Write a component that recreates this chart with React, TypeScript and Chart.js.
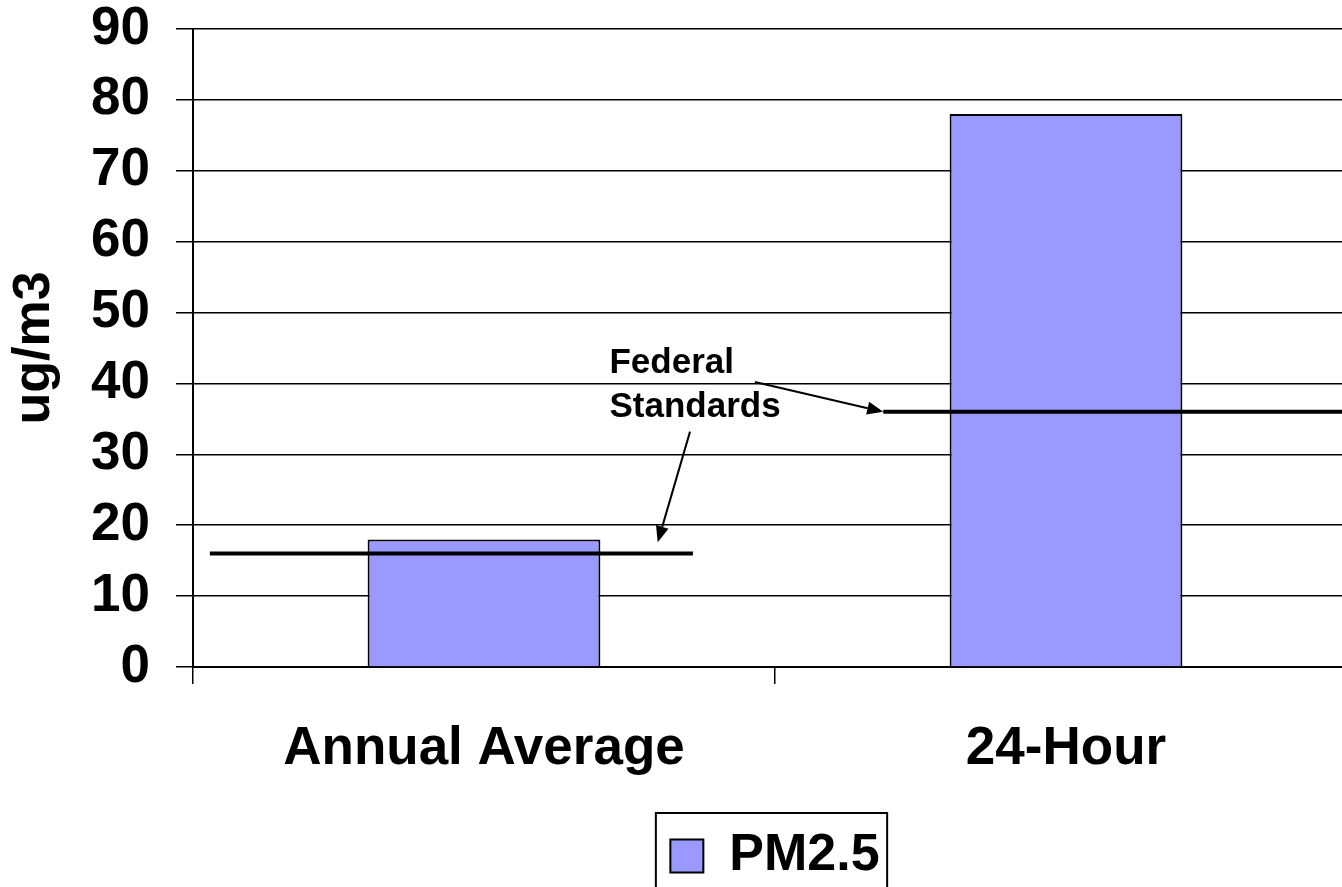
import React, { useEffect, useRef } from "react";
import { Chart, registerables } from "chart.js";

Chart.register(...registerables);

// ---- data ----
const categories = ["Annual Average", "24-Hour"];
const seriesLabel = "PM2.5";
const pm25Values = [18, 78];
const federalStandards = [16, 36];
const yMin = 0;
const yMax = 90;
const yStep = 10;
const yTitle = "ug/m3";
const noteLines = ["Federal", "Standards"];

// ---- layout / style constants (category-relative units, value units) ----
const FONT = '"Liberation Sans", Arial, Helvetica, sans-serif';
const BAR_COLOR = "#9999FF";
const STD_SPANS: [number, number][] = [
  [-0.471, 0.359],
  [-0.314, 0.5],
];
// arrows: [cat, u, value] start -> end
const ARROWS = [
  { from: [0, 0.4656, 40.2], to: [1, -0.314, 36] },
  { from: [0, 0.354, 33.2], to: [0, 0.2985, 17.6] },
];
const NOTE_POS = [
  { cat: 0, u: 0.2156, v: 42.9 },
  { cat: 0, u: 0.2156, v: 36.56 },
];

const annotationPlugin = {
  id: "federalStandards",
  afterDatasetsDraw(chart: any) {
    const xs = chart.scales.x;
    const ys = chart.scales.y;
    const cw = xs.getPixelForValue(1) - xs.getPixelForValue(0);
    const px = (cat: number, u: number) => xs.getPixelForValue(cat) + u * cw;
    const ctx = chart.ctx as CanvasRenderingContext2D;
    ctx.save();
    // standard lines
    ctx.strokeStyle = "#000";
    ctx.lineWidth = 4;
    ctx.lineCap = "butt";
    federalStandards.forEach((v, i) => {
      const yy = ys.getPixelForValue(v);
      ctx.beginPath();
      ctx.moveTo(px(i, STD_SPANS[i][0]), yy);
      ctx.lineTo(px(i, STD_SPANS[i][1]), yy);
      ctx.stroke();
    });
    // arrows
    ARROWS.forEach((a) => {
      const x1 = px(a.from[0], a.from[1]);
      const y1 = ys.getPixelForValue(a.from[2]);
      const x2 = px(a.to[0], a.to[1]);
      const y2 = ys.getPixelForValue(a.to[2]);
      const ang = Math.atan2(y2 - y1, x2 - x1);
      const len = 16;
      const hw = 6.5;
      const bx = x2 - len * Math.cos(ang);
      const by = y2 - len * Math.sin(ang);
      ctx.lineWidth = 2;
      ctx.beginPath();
      ctx.moveTo(x1, y1);
      ctx.lineTo(bx, by);
      ctx.stroke();
      ctx.fillStyle = "#000";
      ctx.beginPath();
      ctx.moveTo(x2, y2);
      ctx.lineTo(bx + hw * Math.sin(ang), by - hw * Math.cos(ang));
      ctx.lineTo(bx - hw * Math.sin(ang), by + hw * Math.cos(ang));
      ctx.closePath();
      ctx.fill();
    });
    // note text
    ctx.fillStyle = "#000";
    ctx.font = `bold 35px ${FONT}`;
    ctx.textAlign = "left";
    ctx.textBaseline = "middle";
    noteLines.forEach((t, i) => {
      const p = NOTE_POS[i];
      ctx.fillText(t, px(p.cat, p.u), ys.getPixelForValue(p.v));
    });
    ctx.restore();
  },
};

const legendBorderPlugin = {
  id: "legendBorder",
  afterDraw(chart: any) {
    const hb = chart.legend && chart.legend.legendHitBoxes && chart.legend.legendHitBoxes[0];
    if (!hb) return;
    const ctx = chart.ctx as CanvasRenderingContext2D;
    ctx.save();
    ctx.strokeStyle = "#000";
    ctx.lineWidth = 2;
    ctx.strokeRect(hb.left - 14.5, hb.top - 17, hb.width + 22, hb.height + 34);
    ctx.restore();
  },
};

export default function App() {
  const ref = useRef<HTMLCanvasElement | null>(null);

  useEffect(() => {
    if (!ref.current) return;
    Chart.defaults.font.family = FONT;
    Chart.defaults.color = "#000";
    const chart = new Chart(ref.current, {
      type: "bar",
      data: {
        labels: categories,
        datasets: [
          {
            label: seriesLabel,
            data: pm25Values,
            backgroundColor: BAR_COLOR,
            borderColor: "#000",
            borderWidth: 2,
            categoryPercentage: 0.8,
            barPercentage: 0.5,
          },
        ],
      },
      options: {
        responsive: false,
        animation: false,
        devicePixelRatio: 1,
        events: [],
        layout: { padding: { top: 29, right: 13, left: 0, bottom: 0 } },
        plugins: {
          tooltip: { enabled: false },
          legend: {
            display: true,
            position: "bottom",
            fullSize: false,
            labels: {
              boxWidth: 33,
              boxHeight: 33,
              padding: 10,
              color: "#000",
              font: { size: 52, weight: "bold", family: FONT },
            },
          },
        },
        scales: {
          x: {
            offset: true,
            grid: {
              offset: true,
              drawOnChartArea: false,
              drawTicks: true,
              tickLength: 17,
              color: "#000",
              lineWidth: 1.5,
            },
            border: { display: true, color: "#000", width: 2 },
            ticks: {
              color: "#000",
              padding: 34,
              maxRotation: 0,
              autoSkip: false,
              font: { size: 53, weight: "bold", family: FONT, lineHeight: 1.2 },
            },
            afterFit: (s: any) => {
              s.height = 153;
            },
          },
          y: {
            min: yMin,
            max: yMax,
            ticks: {
              stepSize: yStep,
              color: "#000",
              padding: 26,
              font: { size: 53, weight: "bold", family: FONT, lineHeight: 0.04 },
            },
            grid: {
              drawTicks: true,
              tickLength: 17,
              color: "#000",
              lineWidth: 1.5,
            },
            border: { display: true, color: "#000", width: 2 },
            title: {
              display: true,
              text: yTitle,
              color: "#000",
              padding: { top: 3, bottom: 0 },
              font: { size: 52, weight: "bold", family: FONT, lineHeight: 1.2 },
            },
            afterFit: (s: any) => {
              s.width = 193;
            },
          },
        },
      },
      plugins: [annotationPlugin, legendBorderPlugin],
    } as any);
    return () => chart.destroy();
  }, []);

  return (
    <div
      style={{
        position: "fixed",
        left: 0,
        top: 0,
        width: 1342,
        height: 887,
        overflow: "hidden",
        background: "#fff",
      }}
    >
      <canvas
        ref={ref}
        width={1370}
        height={892}
        style={{ display: "block", width: 1370, height: 892 }}
      />
    </div>
  );
}
